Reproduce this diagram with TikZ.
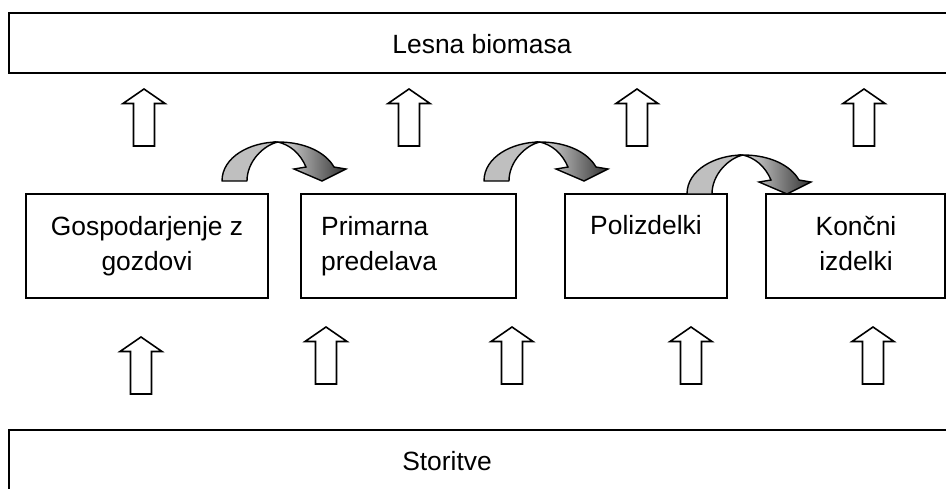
\documentclass[tikz,border=0pt]{standalone}
\usepackage{fontspec}
\setmainfont{Liberation Sans}
\begin{document}
\begin{tikzpicture}[x=1pt,y=-1pt,
  box/.style={draw, line width=1.8pt, rectangle, inner sep=0pt, outer sep=0pt, anchor=north west},
  lbl/.style={font=\fontsize{26.4}{35}\selectfont, inner sep=0pt, align=center},
  blk/.style={draw, line width=1.6pt, fill=white, line join=miter},
  upar/.pic={\path[blk] (0,0) -- (21,14.5) -- (10.5,14.5) -- (10.5,57) -- (-10.5,57) -- (-10.5,14.5) -- (-21,14.5) -- cycle;},
  curv/.pic={
    \path[draw, line width=1.4pt, fill=gray!50, line join=round]
      (0,0) .. controls (0,-24) and (28,-39) .. (56,-39)
      .. controls (42,-36) and (25,-20) .. (25,0) -- cycle;
    \path[draw, line width=1.4pt, left color=gray!25, right color=black!80, line join=miter]
      (56,-39) .. controls (84,-39) and (104,-28) .. (112,-14)
      -- (124,-12) -- (100,0) -- (72,-12) -- (84,-14)
      .. controls (78,-28) and (68,-36) .. (56,-39) -- cycle;
  }
]
\clip (0,0) rectangle (946,488);
\fill[white] (0,0) rectangle (946,488);
% outer bands
\node[box, minimum width=990pt, minimum height=60pt] (top) at (9,13) {};
\node[box, minimum width=990pt, minimum height=80pt] (bot) at (9,430) {};
\node[lbl, anchor=base] (toptxt) at (482,53.3) {Lesna biomasa};
\node[lbl, anchor=base] (bottxt) at (447,470.7) {Storitve};
% process boxes
\node[box, minimum width=242pt, minimum height=104pt] (b1) at (26,194) {};
\node[box, minimum width=215pt, minimum height=104pt] (b2) at (301,194) {};
\node[box, minimum width=162pt, minimum height=104pt] (b3) at (565,194) {};
\node[box, minimum width=179pt, minimum height=104pt] (b4) at (766,194) {};
\node[lbl] (t1) at (147,245.8) {Gospodarjenje z\\gozdovi};
\node[lbl, align=left, anchor=west] (t2) at (321,245.8) {Primarna\\predelava};
\node[lbl, anchor=base] (t3) at (646,234) {Polizdelki};
\node[lbl] (t4) at (856,244) {Končni\\izdelki};
% up arrows to the top band
\pic (ua1) at (144,89) {upar};
\pic (ua2) at (409,89) {upar};
\pic (ua3) at (637,89) {upar};
\pic (ua4) at (864,89) {upar};
% up arrows from the bottom band
\pic (la1) at (141,337) {upar};
\pic (la2) at (326,327) {upar};
\pic (la3) at (512,327) {upar};
\pic (la4) at (691,327) {upar};
\pic (la5) at (873,327) {upar};
% curved arrows between boxes
\pic (c1) at (222,181) {curv};
\pic (c2) at (484,181) {curv};
\pic (c3) at (687,194) {curv};
\end{tikzpicture}
\end{document}
